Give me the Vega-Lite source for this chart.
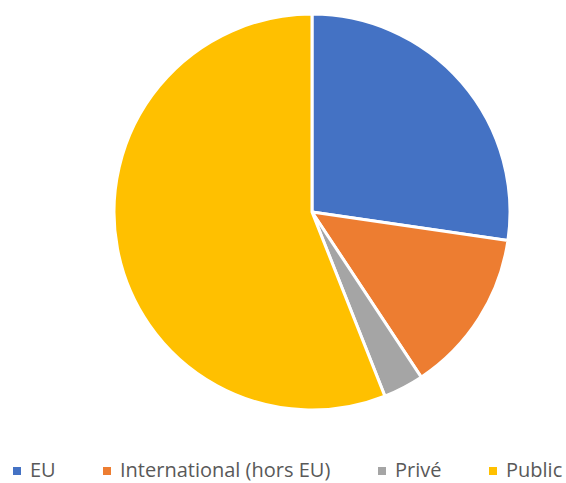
{
  "$schema": "https://vega.github.io/schema/vega-lite/v6.json",
  "width": 508,
  "height": 424,
  "autosize": {"type": "none"},
  "padding": {"left": 58, "top": 0, "right": 0, "bottom": 59},
  "background": "white",
  "config": {"view": {"stroke": null}},
  "data": {
    "values": [
      {"cat": "EU", "value": 27.3, "o": 1},
      {"cat": "International (hors EU)", "value": 13.4, "o": 2},
      {"cat": "Privé", "value": 3.3, "o": 3},
      {"cat": "Public", "value": 56.0, "o": 4}
    ]
  },
  "mark": {"type": "arc", "outerRadius": 198, "stroke": "white", "strokeWidth": 3},
  "encoding": {
    "theta": {"field": "value", "type": "quantitative", "stack": true},
    "order": {"field": "o", "type": "quantitative"},
    "color": {
      "field": "cat",
      "type": "nominal",
      "scale": {
        "domain": ["EU", "International (hors EU)", "Privé", "Public"],
        "range": ["#4472C4", "#ED7D31", "#A5A5A5", "#FFC000"]
      },
      "legend": {
        "title": null,
        "orient": "none",
        "direction": "horizontal",
        "legendX": -51,
        "legendY": 461,
        "symbolType": "square",
        "symbolSize": 64,
        "symbolStrokeWidth": 0,
        "labelFont": "Open Sans",
        "labelFontSize": 20,
        "labelColor": "#595959",
        "labelOffset": 3,
        "columnPadding": 41,
        "labelLimit": 400
      }
    }
  }
}
